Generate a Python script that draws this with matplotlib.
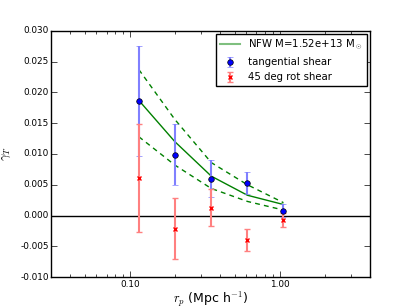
import matplotlib
matplotlib.use("Agg")
import matplotlib.pyplot as plt
from matplotlib.lines import Line2D
from matplotlib.ticker import FormatStrFormatter

plt.style.use('classic')
plt.rcParams['font.size'] = 7

# data
rp = [0.115, 0.20, 0.35, 0.61, 1.06]
gt = [0.0186, 0.0099, 0.0060, 0.0053, 0.0008]
gt_err = [0.0089, 0.0049, 0.0030, 0.0018, 0.0011]
gx = [0.0061, -0.0021, 0.0013, -0.0039, -0.0007]
gx_err = [0.0088, 0.0049, 0.0030, 0.0018, 0.0011]
nfw = [0.0187, 0.0120, 0.0064, 0.0033, 0.0018]
nfw_hi = [0.0237, 0.0156, 0.0086, 0.0050, 0.0021]
nfw_lo = [0.0128, 0.0082, 0.0044, 0.0023, 0.0009]
nfw_label = 'NFW M=1.52e+13 M$_\\odot$'

fig = plt.figure(figsize=(4.11, 3.08), dpi=100, facecolor='white')
ax = fig.add_subplot(111)
fig.subplots_adjust(left=0.125, right=0.9, bottom=0.1, top=0.9)

ax.axhline(0, color='k', lw=1)
ax.plot(rp, nfw, color='g', lw=1)
ax.plot(rp, nfw_hi, color='g', lw=1, ls='--', dashes=(3.5, 3))
ax.plot(rp, nfw_lo, color='g', lw=1, ls='--', dashes=(3.5, 3))

eb1 = ax.errorbar(rp, gt, yerr=gt_err, fmt='o', color='b', ecolor=(0.5, 0.5, 1.0),
                  mec='k', mew=0.5, ms=4, capsize=2.5, elinewidth=1.5, capthick=1)
eb2 = ax.errorbar(rp, gx, yerr=gx_err, fmt='x', color='r', ecolor=(1.0, 0.5, 0.5),
                  mec='r', mew=1, ms=3, capsize=2.5, elinewidth=1.5, capthick=1)

ax.set_xscale('log')
ax.set_xlim(0.03, 4)
ax.set_ylim(-0.010, 0.030)
ax.set_yticks([-0.010, -0.005, 0.0, 0.005, 0.010, 0.015, 0.020, 0.025, 0.030])
ax.yaxis.set_major_formatter(FormatStrFormatter('%.3f'))
ax.xaxis.set_major_formatter(FormatStrFormatter('%.2f'))
ax.tick_params(labelsize=6.4, pad=2)

ax.set_xlabel('$r_p$ (Mpc h$^{-1}$)', fontsize=9)
ax.set_ylabel('$\\gamma_T$', fontsize=9)
ax.xaxis.set_label_coords(0.5, -0.052)
ax.yaxis.set_label_coords(-0.122, 0.5)

h_line = Line2D([], [], color='g', alpha=0.5, lw=1.5)
leg = ax.legend([h_line, eb1, eb2], [nfw_label, 'tangential shear', '45 deg rot shear'],
                loc='upper right', fontsize=7.3, numpoints=1, borderaxespad=0.3)
leg.get_frame().set_edgecolor('k')

fig.savefig('out.png', dpi=100, facecolor='white')
